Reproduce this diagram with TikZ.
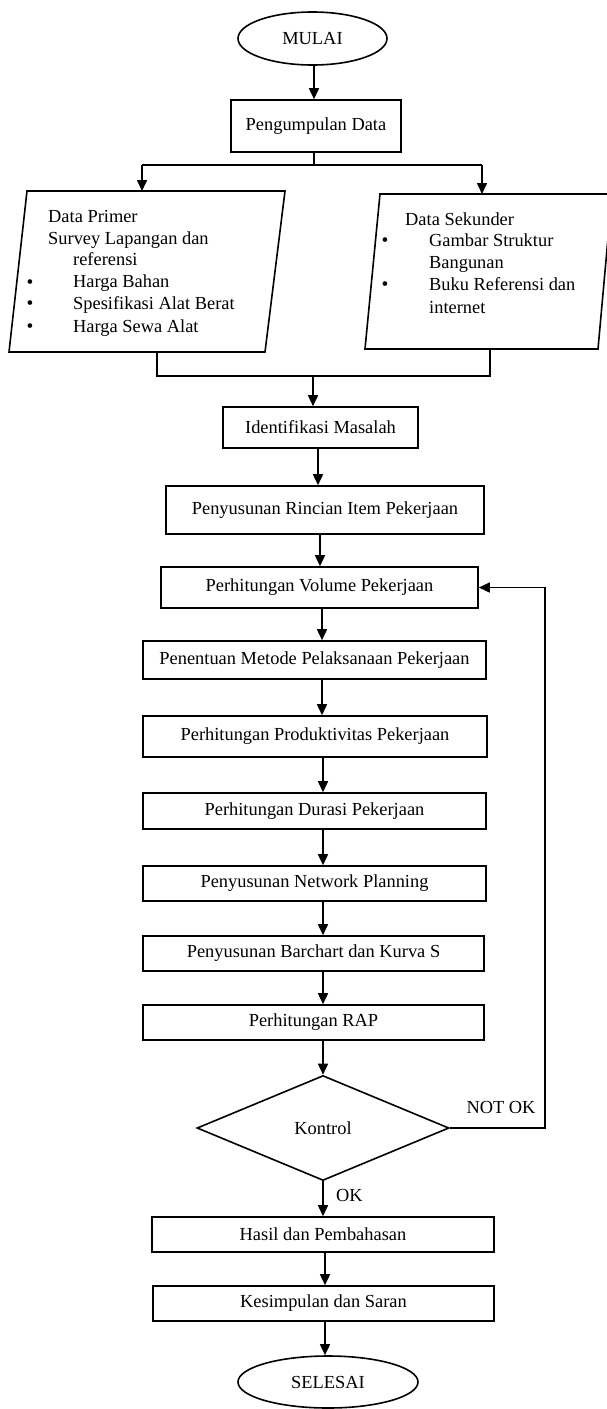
\documentclass[tikz,border=0pt]{standalone}
\usepackage{fontspec}
\setmainfont{Liberation Serif}
\usetikzlibrary{shapes.geometric,arrows.meta}
\begin{document}
\begin{tikzpicture}[x=1pt,y=-1pt,
  every node/.style={font=\fontsize{18.4}{22}\selectfont},
  box/.style={draw, line width=1.6pt, rectangle, inner sep=0pt},
  oval/.style={draw, line width=1.6pt, ellipse, inner sep=0pt},
  dia/.style={draw, line width=1.6pt, diamond, inner sep=0pt},
  arr/.style={line width=1.6pt, -{Triangle[length=11pt,width=10pt]}},
  ln/.style={line width=1.6pt},
  txt/.style={inner sep=0pt, anchor=base west},
  bul/.style={inner sep=0pt, anchor=base, font=\fontsize{19.5}{22}\selectfont}]
\useasboundingbox (0,0) rectangle (607,1409);

% nodes
\node[oval, minimum width=149pt, minimum height=53pt] (mulai) at (312.5,38.5) {MULAI};
\node[box, minimum width=170pt, minimum height=52pt] (kumpul) at (316,126) {Pengumpulan Data};

% left parallelogram
\coordinate (pA1) at (27,191);
\coordinate (pA2) at (285,191);
\coordinate (pA3) at (265,352);
\coordinate (pA4) at (9,352);
\draw[ln] (pA1) -- (pA2) -- (pA3) -- (pA4) -- cycle;
\node[txt] (l1) at (48,222.3) {Data Primer};
\node[txt] (l2) at (48,244) {Survey Lapangan dan};
\node[txt] (l3) at (73,265.7) {referensi};
\node[txt] (l4) at (73,287.7) {Harga Bahan};
\node[txt] (l5) at (73,309.3) {Spesifikasi Alat Berat};
\node[txt] (l6) at (73,332) {Harga Sewa Alat};
\node[bul] (bl4) at (30,288.3) {•};
\node[bul] (bl5) at (30,309.9) {•};
\node[bul] (bl6) at (30,332.6) {•};

% right parallelogram
\coordinate (pB1) at (380,194);
\coordinate (pB2) at (612,194);
\coordinate (pB3) at (598,349);
\coordinate (pB4) at (365,349);
\draw[ln] (pB1) -- (pB2) -- (pB3) -- (pB4) -- cycle;
\node[txt] (r1) at (405,225) {Data Sekunder};
\node[txt] (r2) at (429,246) {Gambar Struktur};
\node[txt] (r3) at (429,268.3) {Bangunan};
\node[txt] (r4) at (429,290) {Buku Referensi dan};
\node[txt] (r5) at (429,313.3) {internet};
\node[bul] (br2) at (385,246.6) {•};
\node[bul] (br4) at (385,290.6) {•};

\node[box, minimum width=195pt, minimum height=41pt] (ident) at (320.5,427.5) {Identifikasi Masalah};
\node[box, minimum width=318pt, minimum height=48pt] (rinc) at (325,510) {Penyusunan Rincian Item Pekerjaan};
\node[box, minimum width=317pt, minimum height=41pt] (vol) at (319.5,587.5) {Perhitungan Volume Pekerjaan};
\node[box, minimum width=343pt, minimum height=38pt] (met) at (314.5,660) {Penentuan Metode Pelaksanaan Pekerjaan};
\node[box, minimum width=344pt, minimum height=41pt] (prod) at (315,736.5) {Perhitungan Produktivitas Pekerjaan};
\node[box, minimum width=343pt, minimum height=36pt] (dur) at (314.5,811) {Perhitungan Durasi Pekerjaan};
\node[box, minimum width=343pt, minimum height=35pt] (net) at (314.5,883.5) {Penyusunan Network Planning};
\node[box, minimum width=341pt, minimum height=35pt] (bar) at (313.5,953.5) {Penyusunan Barchart dan Kurva S};
\node[box, minimum width=341pt, minimum height=35pt] (rap) at (313.5,1022.5) {Perhitungan RAP};
\node[dia, minimum width=252pt, minimum height=105pt] (kon) at (323,1128) {Kontrol};
\node[box, minimum width=342pt, minimum height=35pt] (hasil) at (323,1234.5) {Hasil dan Pembahasan};
\node[box, minimum width=341pt, minimum height=35pt] (kes) at (323.5,1303.5) {Kesimpulan dan Saran};
\node[oval, minimum width=180pt, minimum height=52pt] (sel) at (328,1382) {SELESAI};

\node[inner sep=0pt] (notok) at (501,1107) {NOT OK};
\node[inner sep=0pt] (ok) at (349.5,1195) {OK};

% axis coordinates
\coordinate (x314) at (314,0);
\coordinate (x313) at (313,0);
\coordinate (x318) at (318,0);
\coordinate (x320) at (320,0);
\coordinate (x322) at (322,0);
\coordinate (x323) at (323,0);
\coordinate (x325) at (325,0);

% connectors
\draw[arr] (mulai.south -| x314) -- (kumpul.north -| x314);
\coordinate (split) at (314,165);
\coordinate (sL) at (142,165);
\coordinate (sR) at (482,165);
\draw[ln] (kumpul.south -| split) -- (split);
\draw[ln] (sL) -- (sR);
\draw[arr] (sL) -- (sL |- pA1);
\draw[arr] (sR) -- (sR |- pB1);

\coordinate (mL) at (157,376);
\coordinate (mR) at (490,376);
\coordinate (mC) at (313,376);
\draw[ln] (mL |- pA4) -- (mL) -- (mR) -- (mR |- pB4);
\draw[arr] (mC) -- (mC |- ident.north);

\draw[arr] (ident.south -| x318) -- (rinc.north -| x318);
\draw[arr] (rinc.south -| x320) -- (vol.north -| x320);
\draw[arr] (vol.south -| x322) -- (met.north -| x322);
\draw[arr] (met.south -| x322) -- (prod.north -| x322);
\draw[arr] (prod.south -| x323) -- (dur.north -| x323);
\draw[arr] (dur.south -| x323) -- (net.north -| x323);
\draw[arr] (net.south -| x323) -- (bar.north -| x323);
\draw[arr] (bar.south -| x323) -- (rap.north -| x323);
\draw[arr] (rap.south -| x323) -- (kon.north);
\draw[arr] (kon.south) -- (hasil.north -| kon.south);
\draw[arr] (hasil.south -| x325) -- (kes.north -| x325);
\draw[arr] (kes.south -| x325) -- (sel.north -| x325);

\coordinate (lp) at (545,0);
\draw[arr] (kon.east) -- (kon.east -| lp) -- (vol.east -| lp) -- (vol.east);
\end{tikzpicture}
\end{document}
